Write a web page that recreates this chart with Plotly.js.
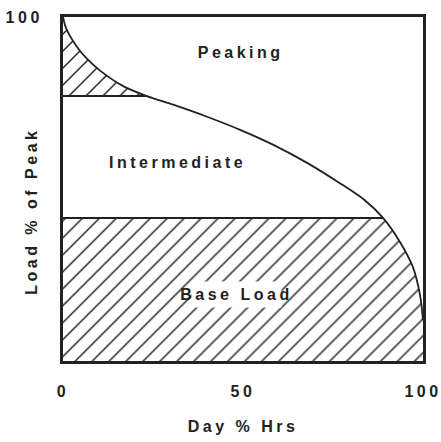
<!DOCTYPE html>
<html>
<head>
<meta charset="utf-8">
<script src="https://cdn.plot.ly/plotly-3.0.1.min.js"></script>
<style>
  html, body { margin: 0; padding: 0; background: #fff; }
  #chart { width: 441px; height: 442px; }
  #chart text { letter-spacing: 3.5px; }
</style>
</head>
<body>
<div id="chart"></div>
<script>
// Load duration curve
const dayPct  = [0, 0.6, 1.5, 3.9, 6.7, 10.3, 16.7, 23.3, 30.6, 40.0, 49.2, 58.3, 67.8, 76.9, 83.5, 88.9, 93.6, 97.2, 99.2, 100];
const loadPct = [100, 97.5, 95.3, 91.3, 87.8, 84.4, 79.9, 77.0, 74.5, 71.0, 67.2, 62.9, 57.6, 51.7, 47.0, 41.6, 34.6, 27.3, 19.0, 11.9];
const peakingLevel = 77.0;
const baseLevel = 41.6;

const xTickVals = [0, 50, 100];
const xTickText = ['0', '50', '100'];
const yTickVals = [100];
const yTickText = ['100'];

const regionLabels = ['Peaking', 'Intermediate', 'Base Load'];
const labelX = [49.2, 31.8, 48.1];
const labelY = [89.8, 57.6, 19.2];

const ink = '#222';
const font = { family: 'Arial, "Liberation Sans", sans-serif', size: 16, color: ink, weight: 'bold' };

// Peaking hatch polygon: part of curve above peaking level, closed back along the level
const peakX = [], peakY = [];
dayPct.forEach((x, i) => { if (loadPct[i] >= peakingLevel) { peakX.push(x); peakY.push(loadPct[i]); } });
const peakEndX = peakX[peakX.length - 1];
peakX.push(0); peakY.push(peakingLevel);

// Base hatch polygon: below base level, bounded by curve on the right
const baseX = [0, 0], baseY = [0, baseLevel];
dayPct.forEach((x, i) => { if (loadPct[i] <= baseLevel) { baseX.push(x); baseY.push(loadPct[i]); } });
const baseStartX = baseX[2];
baseX.push(dayPct[dayPct.length - 1]); baseY.push(0);

const hatch = { shape: '/', size: 12, solidity: 0.12, fgcolor: ink, bgcolor: 'white', fillmode: 'replace' };

const traces = [
  { x: peakX, y: peakY, mode: 'lines', fill: 'toself', fillcolor: 'white', fillpattern: hatch,
    line: { width: 0, color: ink }, hoverinfo: 'skip', showlegend: false },
  { x: baseX, y: baseY, mode: 'lines', fill: 'toself', fillcolor: 'white', fillpattern: hatch,
    line: { width: 0, color: ink }, hoverinfo: 'skip', showlegend: false },
  { x: [0, peakEndX], y: [peakingLevel, peakingLevel], mode: 'lines',
    line: { width: 2, color: ink }, showlegend: false },
  { x: [0, baseStartX], y: [baseLevel, baseLevel], mode: 'lines',
    line: { width: 2, color: ink }, showlegend: false },
  { x: dayPct, y: loadPct, mode: 'lines', line: { width: 1.8, color: ink, shape: 'spline', smoothing: 0.8 },
    showlegend: false }
];

const annotations = regionLabels.map((t, i) => ({
  x: labelX[i], y: labelY[i], xref: 'x', yref: 'y', text: t, showarrow: false,
  font: font, xanchor: 'center', yanchor: 'middle',
  bgcolor: t === 'Base Load' ? 'white' : 'rgba(0,0,0,0)', borderpad: 4
}));
annotations.push({
  x: -0.089, y: 0.435, xref: 'paper', yref: 'paper', text: 'Load % of Peak', textangle: -90,
  showarrow: false, font: font, xanchor: 'center', yanchor: 'middle'
});

const layout = {
  width: 441, height: 442,
  margin: { l: 63, r: 18, t: 17, b: 81 },
  paper_bgcolor: 'white', plot_bgcolor: 'white',
  showlegend: false,
  xaxis: {
    range: [0, 100], tickvals: xTickVals, ticktext: xTickText, ticks: '',
    showgrid: false, zeroline: false, showline: true, mirror: true, linewidth: 3, linecolor: ink,
    tickfont: font, ticklabelstandoff: 14,
    title: { text: 'Day % Hrs', font: font, standoff: 22 }
  },
  yaxis: {
    range: [0, 100], tickvals: yTickVals, ticktext: yTickText, ticks: '',
    showgrid: false, zeroline: false, showline: true, mirror: true, linewidth: 3, linecolor: ink,
    tickfont: font, ticklabelstandoff: 14
  },
  annotations: annotations
};

Plotly.newPlot('chart', traces, layout, { staticPlot: true, displayModeBar: false });
</script>
</body>
</html>
